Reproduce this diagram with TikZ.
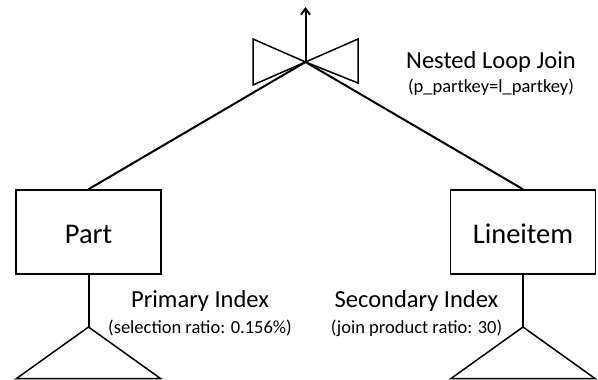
\documentclass[tikz,border=0pt]{standalone}
\usepackage{fontspec}
\setmainfont{Carlito}
\usetikzlibrary{arrows.meta}
\begin{document}
\begin{tikzpicture}[x=1pt,y=-1pt,line width=2pt,
  tbl/.style={draw,line width=1.5pt,minimum width=145pt,minimum height=84pt,inner sep=0pt},
  tbltxt/.style={font=\fontsize{28.5}{30}\selectfont,anchor=base,inner sep=0pt},
  big/.style={font=\fontsize{24.5}{26}\selectfont,anchor=base,inner sep=0pt},
  small/.style={font=\fontsize{18.5}{20}\selectfont,anchor=base,inner sep=0pt},
  thinl/.style={line width=1.5pt}]
\useasboundingbox (0,0) rectangle (598,380);
% bowtie
\coordinate (j) at (305.5,62);
\draw[thinl] (j) -- (253,39) -- (253,85) -- cycle;
\draw[thinl] (j) -- (358,39) -- (358,83) -- cycle;
\coordinate (top) at (305.5,7);
\draw[-{Straight Barb[length=6pt,width=9pt]}] (j) -- (top);
% tables
\node[tbl] (part) at (88.5,232) {};
\node[tbltxt] (parttxt) at (88.5,243) {Part};
\node[tbl] (line) at (523,232) {};
\node[tbltxt] (linetxt) at (523,243) {Lineitem};
\draw (j) -- (part.north);
\draw (j) -- (line.north);
% indexes
\coordinate (pa) at (88.5,327);
\coordinate (pl) at (16.5,378.5);
\coordinate (pr) at (160.5,378.5);
\draw (part.south) -- (pa);
\draw[thinl] (pl) -- (pa) -- (pr) -- cycle;
\coordinate (la) at (523,327);
\coordinate (ll) at (451,378.5);
\coordinate (lr) at (595,378.5);
\draw (line.south) -- (la);
\draw[thinl] (ll) -- (la) -- (lr) -- cycle;
% labels
\node[big] (nlj) at (491,68) {Nested Loop Join};
\node[small] (nljc) at (491,92) {(p\_partkey=l\_partkey)};
\node[big] (pi) at (200,307) {Primary Index};
\node[small] (pic) at (200,333) {(selection ratio: 0.156\%)};
\node[big] (si) at (416.5,307) {Secondary Index};
\node[small] (sic) at (416.5,333) {(join product ratio: 30)};
\end{tikzpicture}
\end{document}
